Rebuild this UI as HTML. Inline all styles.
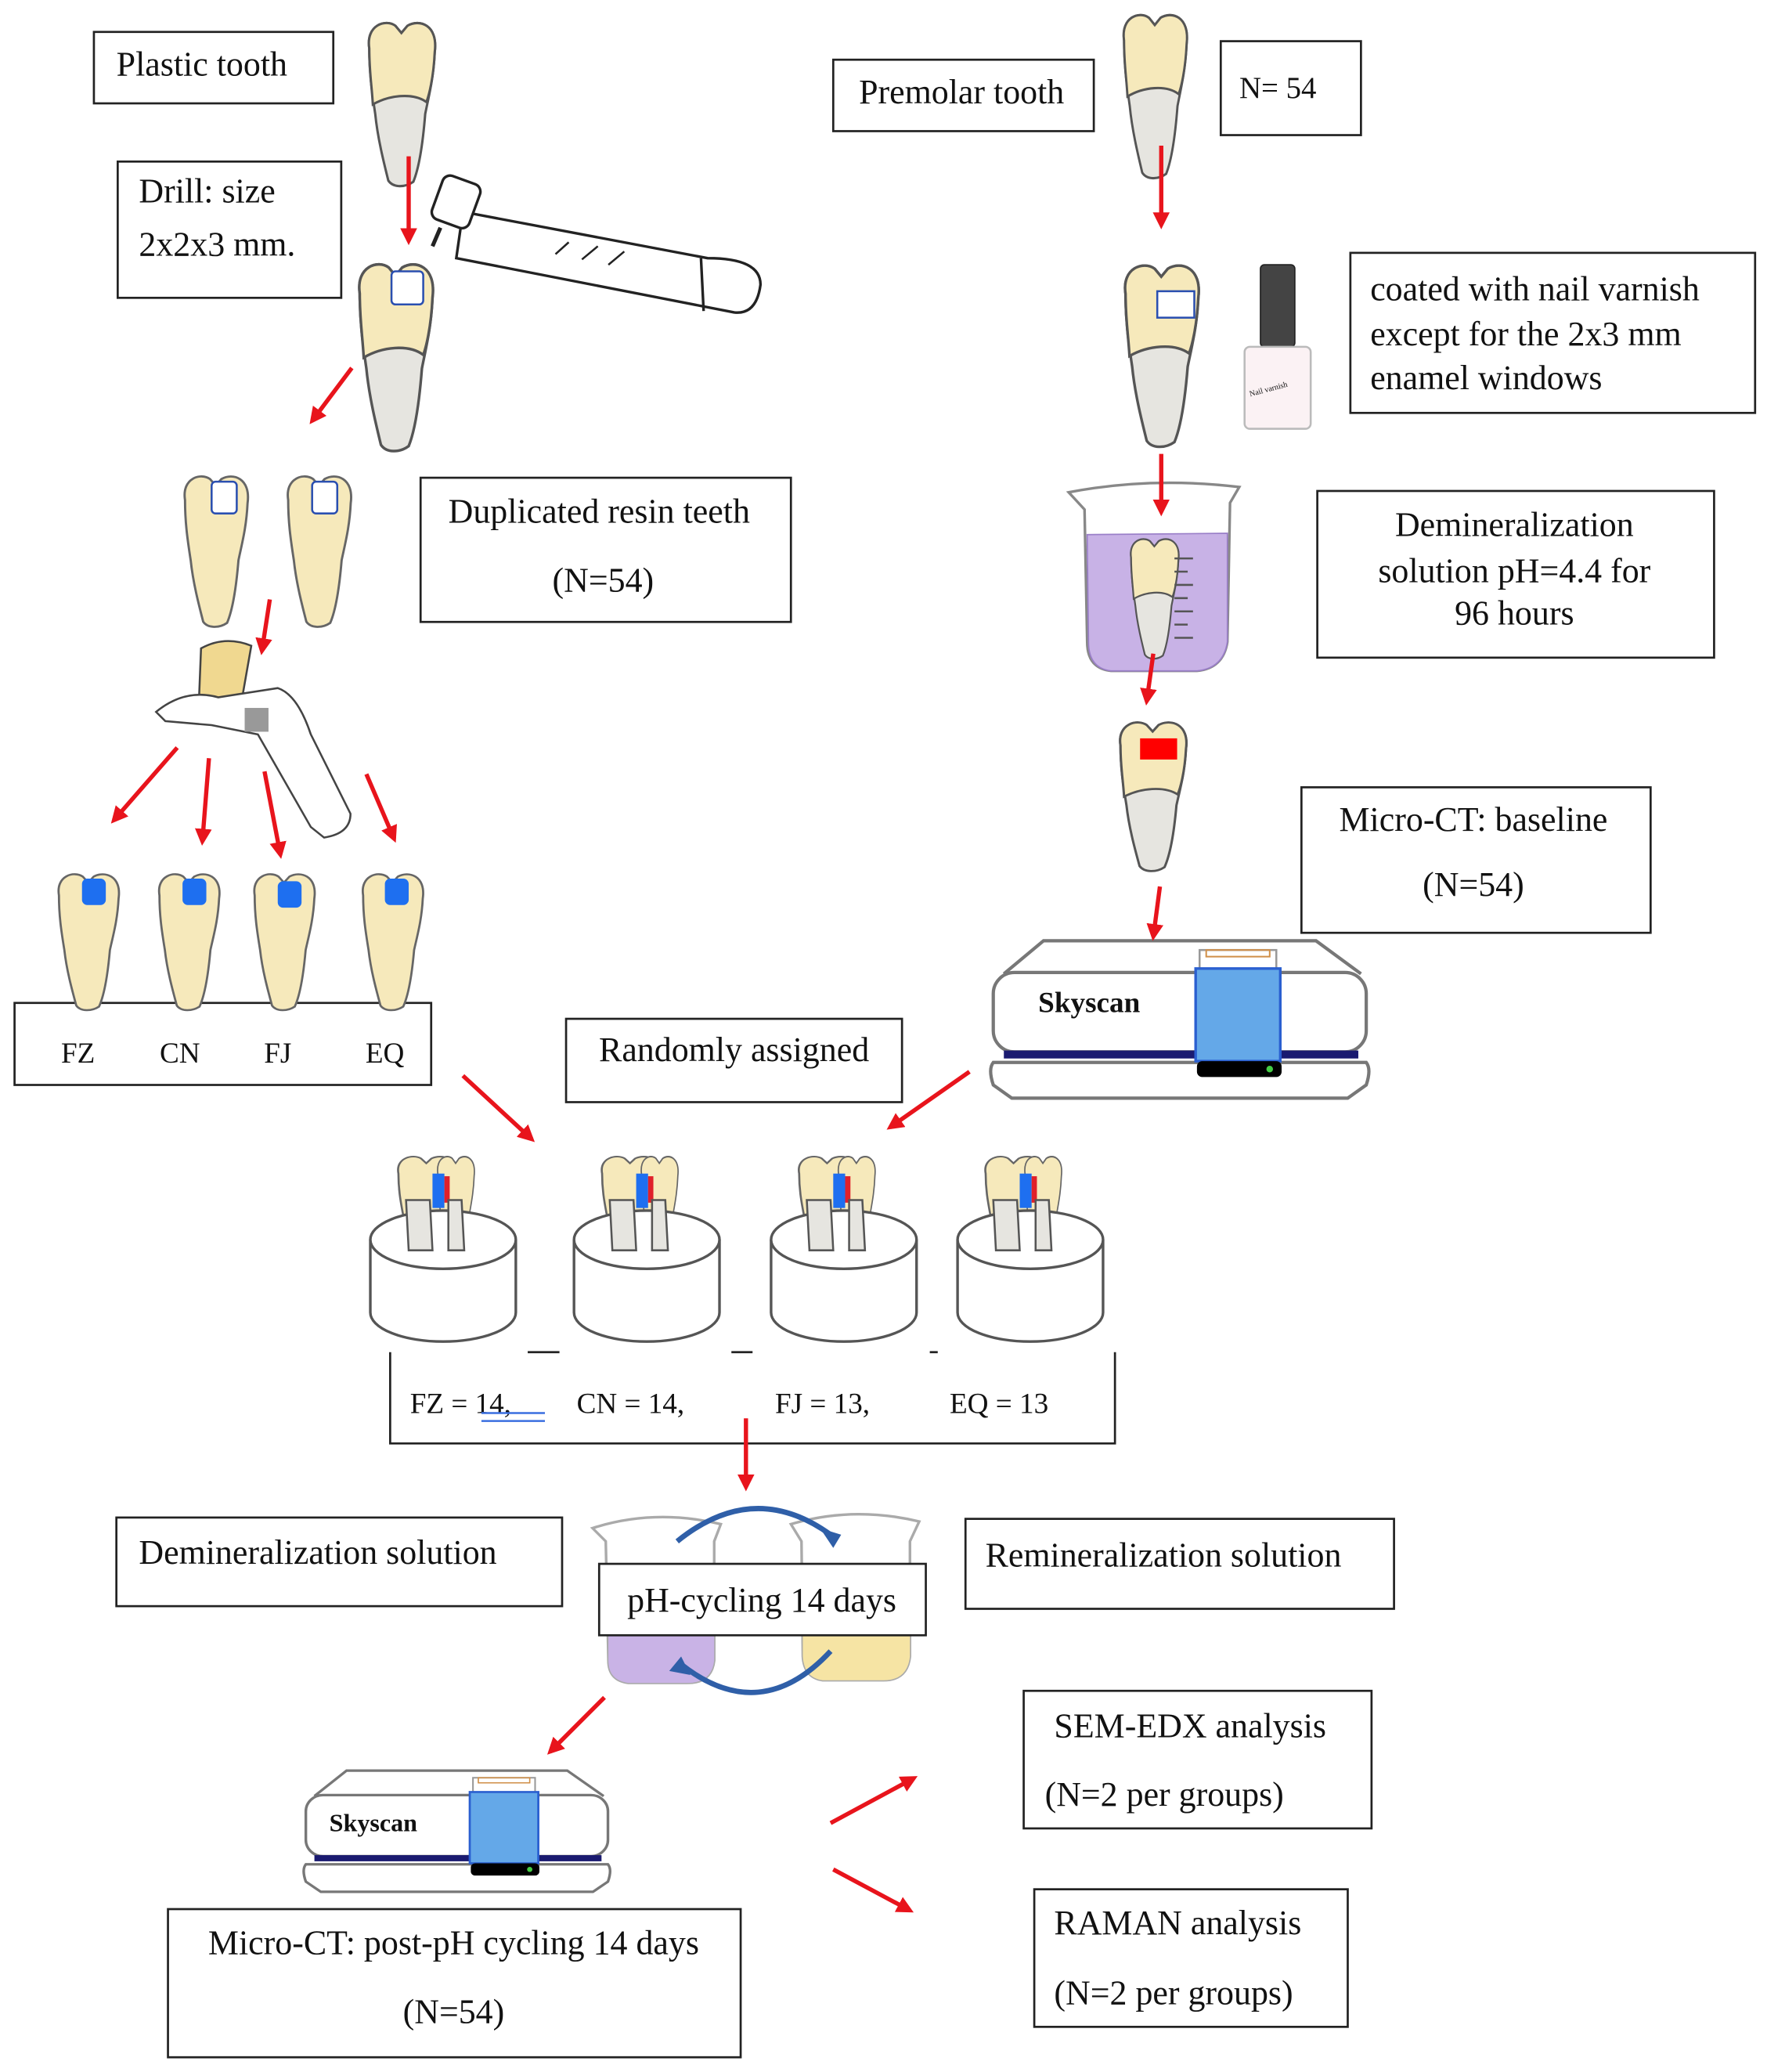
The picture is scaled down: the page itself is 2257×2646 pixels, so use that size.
<!DOCTYPE html>
<html><head><meta charset="utf-8"><style>
html,body{margin:0;padding:0;background:#fff;}
svg{display:block;}
text{font-family:"Liberation Serif",serif;fill:#111;}
</style></head><body>
<svg width="2257" height="2646" viewBox="0 0 1336 1566" xmlns="http://www.w3.org/2000/svg">
<defs>
<marker id="ah" markerWidth="4" markerHeight="4" refX="3" refY="2" orient="auto" markerUnits="strokeWidth">
<path d="M0,0 L4,2 L0,4 Z" fill="#e8141c"/></marker>
<g id="toothG">
<path d="M8,25 C5,5 22,0 30,6 L35,12 L40,6 C50,0 66,5 63,28 C62,50 58,65 55,80 C53,105 50,125 45,137 C38,142 28,142 24,136 C20,120 15,100 13,80 C10,60 8,45 8,25 Z" fill="#e6e5e0" stroke="#555" stroke-width="2"/>
<path d="M8,25 C5,5 22,0 30,6 L35,12 L40,6 C50,0 66,5 63,28 C62,50 58,65 56,70 C45,62 25,64 11,72 C10,55 8,45 8,25 Z" fill="#f6e9bb" stroke="#555" stroke-width="2"/>
</g>
<g id="toothY">
<path d="M8,25 C5,5 22,0 30,6 L35,12 L40,6 C50,0 66,5 63,28 C62,50 58,65 55,80 C53,105 50,125 45,137 C38,142 28,142 24,136 C20,120 15,100 13,80 C10,60 8,45 8,25 Z" fill="#f6e9bb" stroke="#666" stroke-width="2"/>
</g>
<g id="scanner">
<path d="M12,28 L42,3 L248,3 L282,28" fill="#fff" stroke="#777" stroke-width="2.5"/>
<rect x="4" y="27" width="282" height="60" rx="16" fill="#fff" stroke="#777" stroke-width="2.5"/>
<rect x="12" y="86" width="268" height="6" fill="#1a1a70"/>
<path d="M4,95 L286,95 Q290,100 286,112 L272,122 L18,122 L4,112 Q0,100 4,95 Z" fill="#fff" stroke="#777" stroke-width="2.5"/>
<rect x="160" y="10" width="58" height="14" fill="#fff" stroke="#999" stroke-width="1.5"/>
<rect x="165" y="10" width="48" height="5" fill="none" stroke="#d0904a" stroke-width="1.2"/>
<rect x="157" y="24" width="64" height="70" fill="#64a8e8" stroke="#2a5fd0" stroke-width="2"/>
<rect x="158" y="94" width="64" height="12" rx="4" fill="#000"/>
<circle cx="213" cy="100" r="2.5" fill="#4c4"/>
</g>
<g id="holder">
<use href="#toothY" transform="translate(-40,-65) scale(0.78,0.6)"/>
<use href="#toothY" transform="translate(-8,-65) scale(0.5,0.6)"/>
<rect x="-8" y="-50" width="9" height="26" fill="#1e6ff0"/>
<rect x="1" y="-48" width="4" height="20" fill="#e0202a"/>
<path d="M-55,0 L-55,55 A55,22 0 0 0 55,55 L55,0" fill="#fff" stroke="#555" stroke-width="2"/>
<ellipse cx="0" cy="0" rx="55" ry="22" fill="#fff" stroke="#555" stroke-width="2"/>
<path d="M-28,-30 L-26,8 L-8,8 L-10,-30 Z M4,-30 L4,8 L16,8 L14,-30 Z" fill="#e6e5e0" stroke="#555" stroke-width="1.5"/>
</g>
</defs>

<g fill="none" stroke="#222" stroke-width="1.6">
<rect x="71" y="24" width="181" height="54"/>
<rect x="89" y="122" width="169" height="103"/>
<rect x="318" y="361" width="280" height="109"/>
<rect x="11" y="758" width="315" height="62"/>
<rect x="428" y="770" width="254" height="63"/>
<rect x="630" y="45" width="197" height="54"/>
<rect x="923" y="31" width="106" height="71"/>
<rect x="1021" y="191" width="306" height="121"/>
<rect x="996" y="371" width="300" height="126"/>
<rect x="984" y="595" width="264" height="110"/>
<path d="M295,1022 L295,1091 L843,1091 L843,1022"/>
<path d="M399,1022 L423,1022 M553,1022 L569,1022 M703,1022 L709,1022"/>
<rect x="88" y="1147" width="337" height="67"/>
<rect x="730" y="1148" width="324" height="68"/>
<rect x="774" y="1278" width="263" height="104"/>
<rect x="782" y="1428" width="237" height="104"/>
<rect x="127" y="1443" width="433" height="112"/>
</g>

<g font-size="26">
<text x="88" y="57">Plastic tooth</text>
<text x="105" y="153">Drill: size</text>
<text x="105" y="193">2x2x3 mm.</text>
<text x="453" y="395" text-anchor="middle">Duplicated resin teeth</text>
<text x="456" y="447" text-anchor="middle">(N=54)</text>
<text x="555" y="802" text-anchor="middle">Randomly assigned</text>
<text x="727" y="78" text-anchor="middle">Premolar tooth</text>
<text x="937" y="74" font-size="23">N= 54</text>
<text x="1036" y="227">coated with nail varnish</text>
<text x="1036" y="261">except for the 2x3 mm</text>
<text x="1036" y="294">enamel windows</text>
<text x="1145" y="405" text-anchor="middle">Demineralization</text>
<text x="1145" y="440" text-anchor="middle">solution pH=4.4 for</text>
<text x="1145" y="472" text-anchor="middle">96 hours</text>
<text x="1114" y="628" text-anchor="middle">Micro-CT: baseline</text>
<text x="1114" y="677" text-anchor="middle">(N=54)</text>
<text x="105" y="1182">Demineralization solution</text>
<text x="745" y="1184">Remineralization solution</text>
<text x="797" y="1313">SEM-EDX analysis</text>
<text x="790" y="1365">(N=2 per groups)</text>
<text x="797" y="1462">RAMAN analysis</text>
<text x="797" y="1515">(N=2 per groups)</text>
<text x="343" y="1477" text-anchor="middle">Micro-CT: post-pH cycling 14 days</text>
<text x="343" y="1529" text-anchor="middle">(N=54)</text>
</g>
<g font-size="22">
<text x="59" y="803" text-anchor="middle" font-family="Liberation Sans">FZ</text>
<text x="136" y="803" text-anchor="middle" font-family="Liberation Sans">CN</text>
<text x="210" y="803" text-anchor="middle" font-family="Liberation Sans">FJ</text>
<text x="291" y="803" text-anchor="middle" font-family="Liberation Sans">EQ</text>
<text x="310" y="1068">FZ = 14,</text>
<text x="436" y="1068">CN = 14,</text>
<text x="586" y="1068">FJ = 13,</text>
<text x="718" y="1068">EQ = 13</text>
</g>
<path d="M364,1068 L412,1068 M364,1074 L412,1074" stroke="#3a6fe0" stroke-width="1.5"/>

<!-- teeth -->
<use href="#toothG" transform="translate(272,14) scale(0.9,0.9)"/>
<use href="#toothG" transform="translate(264,196) scale(1.0,1.03)"/>
<rect x="296" y="205" width="24" height="25" rx="3" fill="#fff" stroke="#2a4fb0" stroke-width="1.5"/>
<use href="#toothY" transform="translate(133,357) scale(0.86,0.83)"/>
<use href="#toothY" transform="translate(211,357) scale(0.86,0.83)"/>
<rect x="160" y="364" width="19" height="24" rx="3" fill="#fff" stroke="#2a4fb0" stroke-width="1.5"/>
<rect x="236" y="364" width="19" height="24" rx="3" fill="#fff" stroke="#2a4fb0" stroke-width="1.5"/>
<g>
<use href="#toothY" transform="translate(38,658) scale(0.82,0.75)"/>
<use href="#toothY" transform="translate(114,658) scale(0.82,0.75)"/>
<use href="#toothY" transform="translate(186,658) scale(0.82,0.75)"/>
<use href="#toothY" transform="translate(268,658) scale(0.82,0.75)"/>
<rect x="62" y="664" width="18" height="20" rx="4" fill="#1e6ff0"/>
<rect x="138" y="664" width="18" height="20" rx="4" fill="#1e6ff0"/>
<rect x="210" y="666" width="18" height="20" rx="4" fill="#1e6ff0"/>
<rect x="291" y="664" width="18" height="20" rx="4" fill="#1e6ff0"/>
</g>
<use href="#toothG" transform="translate(843,8) scale(0.86,0.9)"/>
<use href="#toothG" transform="translate(843,197) scale(1.0,1.0)"/>
<rect x="875" y="220" width="28" height="20" fill="#fff" stroke="#2a4fb0" stroke-width="1.5"/>
<use href="#toothG" transform="translate(840,543) scale(0.9,0.82)"/>
<rect x="862" y="558" width="28" height="16" fill="#f00"/>

<!-- nail varnish -->
<rect x="953" y="200" width="26" height="62" rx="3" fill="#444" stroke="#222"/>
<rect x="941" y="262" width="50" height="62" rx="4" fill="#fbf2f4" stroke="#bbb" stroke-width="1.5"/>
<text x="944" y="294" font-size="6" fill="#d33" transform="rotate(-15 966 292)">Nail varnish</text>

<!-- beaker -->
<path d="M808,372 Q870,360 937,368 L930,380 L928,485 Q925,505 905,507 L840,507 Q822,505 822,485 L820,385 Z" fill="#fff" stroke="#888" stroke-width="2"/>
<path d="M822,404 L928,403 L928,485 Q925,505 905,507 L840,507 Q823,505 823,485 Z" fill="#c8b2e6" stroke="#9a7fc8" stroke-width="1"/>
<use href="#toothG" transform="translate(850,405) scale(0.65,0.66)"/>
<g stroke="#555" stroke-width="1.5"><path d="M888,422 L902,422 M888,432 L898,432 M888,442 L902,442 M888,452 L898,452 M888,462 L902,462 M888,472 L898,472 M888,482 L902,482"/></g>

<!-- handpiece -->
<g fill="#fff" stroke="#222" stroke-width="2">
<path d="M350,160 L535,195 Q575,195 575,215 Q572,238 555,236 L345,195 Z"/>
<path d="M530,195 L532,235"/>
<rect x="330" y="135" width="30" height="35" rx="6" transform="rotate(20 345 152)"/>
<path d="M333,172 L327,186" stroke-width="3"/>
<path d="M420,192 L430,183 M440,196 L452,186 M460,200 L472,190" stroke-width="1.5"/>
</g>
<!-- curing light -->
<g stroke="#444" stroke-width="1.5">
<path d="M152,490 Q170,480 190,488 L180,545 L150,540 Z" fill="#f0d890"/>
<path d="M118,538 Q140,520 165,527 L210,520 Q225,525 235,555 L265,615 Q265,630 245,633 L235,625 L195,555 L160,548 L125,545 Z" fill="#fff"/>
<rect x="185" y="535" width="18" height="18" fill="#999" stroke="none"/>
</g>

<!-- holders -->
<use href="#holder" transform="translate(335,937)"/>
<use href="#holder" transform="translate(489,937)"/>
<use href="#holder" transform="translate(638,937)"/>
<use href="#holder" transform="translate(779,937)"/>

<!-- scanners -->
<use href="#scanner" transform="translate(747,708)"/>
<text x="785" y="765" font-size="22" font-weight="bold">Skyscan</text>
<use href="#scanner" transform="translate(228,1336) scale(0.81,0.77)"/>
<text x="249" y="1384" font-size="19" font-weight="bold">Skyscan</text>

<!-- pH beakers -->
<path d="M448,1155 Q495,1140 545,1152 L540,1165 L540,1255 Q538,1272 520,1272 L475,1272 Q460,1270 460,1255 L458,1165 Z" fill="#fff" stroke="#aaa" stroke-width="2"/>
<path d="M460,1236 L540,1236 L540,1255 Q538,1272 520,1272 L475,1272 Q460,1270 460,1255 Z" fill="#c9b3e6"/>
<path d="M598,1152 Q645,1138 695,1150 L688,1165 L688,1252 Q686,1270 668,1270 L622,1270 Q608,1268 607,1252 L606,1165 Z" fill="#fff" stroke="#aaa" stroke-width="2"/>
<path d="M607,1236 L688,1236 L688,1252 Q686,1270 668,1270 L622,1270 Q608,1268 607,1252 Z" fill="#f6e4a4"/>
<rect x="453" y="1182" width="247" height="54" fill="#fff" stroke="#222" stroke-width="1.6"/>
<text x="576" y="1218" font-size="26" text-anchor="middle">pH-cycling 14 days</text>
<g fill="none" stroke="#2f5fa8" stroke-width="4">
<path d="M512,1165 Q570,1118 628,1160"/>
<path d="M628,1248 Q575,1305 515,1258"/>
</g>
<path d="M620,1155 L636,1160 L630,1170 Z" fill="#2f5fa8"/>
<path d="M506,1263 L515,1252 L522,1266 Z" fill="#2f5fa8"/>

<!-- arrows -->
<g stroke="#e8141c" stroke-width="3.2" fill="none" marker-end="url(#ah)">
<path d="M309,118 L309,182"/>
<path d="M266,278 L236,318"/>
<path d="M204,453 L198,492"/>
<path d="M134,565 L86,620"/>
<path d="M158,573 L153,636"/>
<path d="M200,583 L212,646"/>
<path d="M277,585 L298,634"/>
<path d="M878,110 L878,170"/>
<path d="M878,343 L878,387"/>
<path d="M872,494 L867,530"/>
<path d="M877,670 L872,708"/>
<path d="M350,813 L402,861"/>
<path d="M733,810 L673,852"/>
<path d="M564,1072 L564,1124"/>
<path d="M457,1283 L416,1324"/>
<path d="M628,1378 L691,1344"/>
<path d="M630,1413 L688,1444"/>
</g>
</svg>
</body></html>
